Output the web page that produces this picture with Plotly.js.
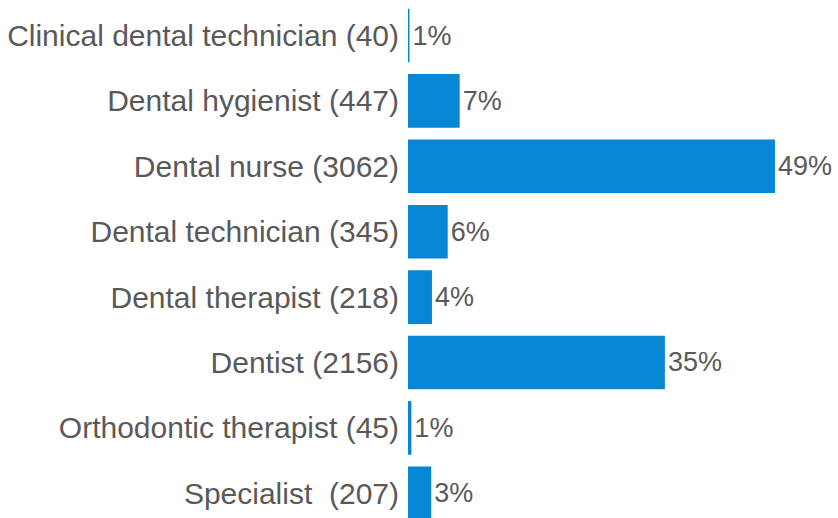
<!DOCTYPE html>
<html>
<head>
<meta charset="utf-8">
<script src="https://cdn.plot.ly/plotly-3.0.1.min.js"></script>
<style>
  html, body { margin: 0; padding: 0; background: #fff; }
  #plot { width: 838px; height: 518px; }
</style>
</head>
<body>
<div id="plot"></div>
<script>
// Roles with number of respondents
let roles = [
  "Clinical dental technician (40)",
  "Dental hygienist (447)",
  "Dental nurse (3062)",
  "Dental technician (345)",
  "Dental therapist (218)",
  "Dentist (2156)",
  "Orthodontic therapist (45)",
  "Specialist  (207)"
];

// Bar lengths (percent)
let shares = [0.2, 6.9, 49, 5.3, 3.2, 34.3, 0.45, 3.1];

// Labels shown at the bar ends
let shareLabels = ["1%", "7%", "49%", "6%", "4%", "35%", "1%", "3%"];

let trace1 = {
  x: shares,
  y: roles,
  type: "bar",
  orientation: "h",
  marker: { color: "#0787D3" },
  text: shareLabels,
  textposition: "outside",
  cliponaxis: false,
  textfont: { family: "Liberation Sans, Arial, sans-serif", size: 27, color: "#595959" },
  hoverinfo: "none"
};

let layout = {
  width: 838,
  height: 518,
  margin: { l: 408, r: 63, t: 0, b: 0 },
  paper_bgcolor: "#fff",
  plot_bgcolor: "#fff",
  showlegend: false,
  bargap: 0.18,
  font: { family: "Liberation Sans, Arial, sans-serif", size: 30, color: "#595959" },
  xaxis: {
    range: [0, 49],
    visible: false,
    fixedrange: true
  },
  yaxis: {
    type: "category",
    range: [7.378, -0.543],
    showgrid: false,
    zeroline: false,
    showline: false,
    ticks: "",
    ticklabelstandoff: 8,
    tickfont: { size: 30, color: "#595959" },
    fixedrange: true
  }
};

Plotly.newPlot("plot", [trace1], layout, { displayModeBar: false, staticPlot: true });
</script>
</body>
</html>
